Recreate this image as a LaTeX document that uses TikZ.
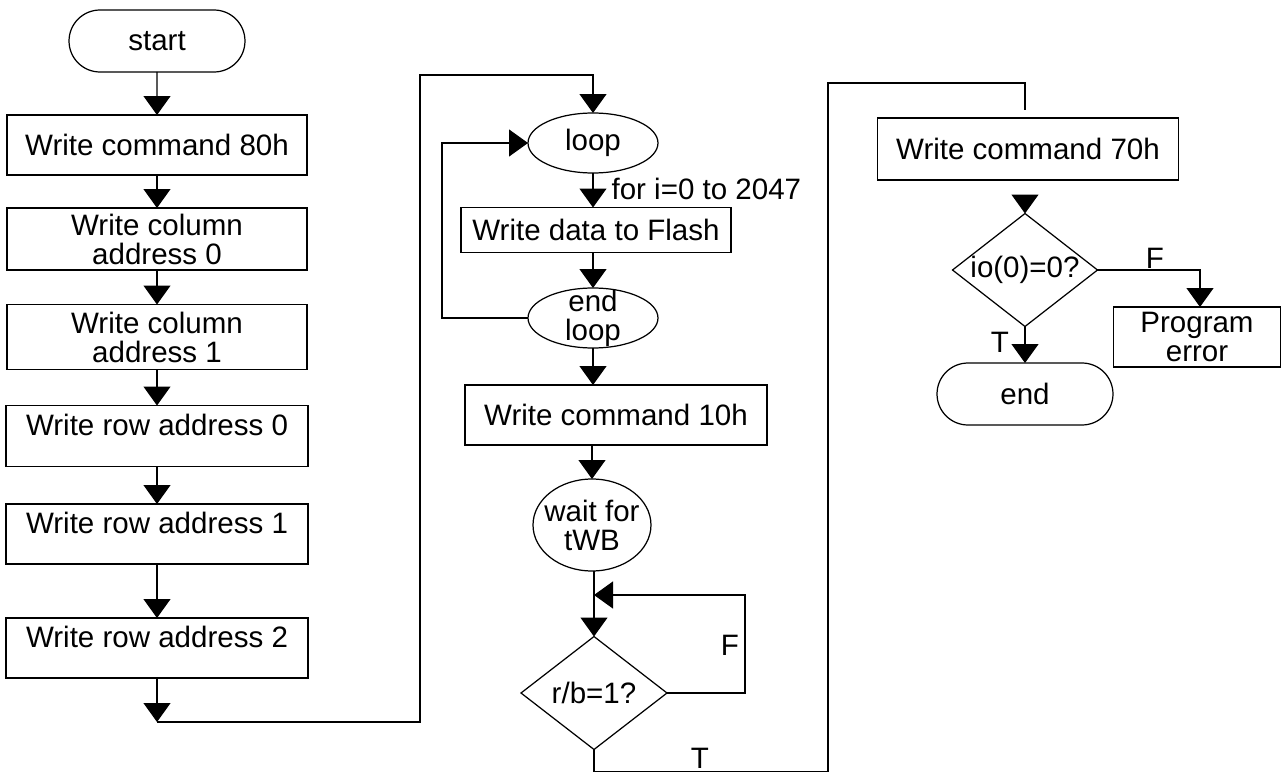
\documentclass[tikz,border=0pt]{standalone}
\usepackage{fontspec}
\setmainfont{Liberation Sans}
\usepackage{tikz}
\usetikzlibrary{shapes.geometric}
\usetikzlibrary{shapes.misc}
\usetikzlibrary{arrows.meta}
\newcommand{\chartfont}{\fontsize{16.8pt}{16.5pt}\selectfont}
\newcommand{\boxwidth}{6cm}
\newcommand{\boxheight}{1.2cm}
\tikzstyle{chart}=[draw, inner sep=0, outer sep=0, align=center, font=\chartfont,
                   minimum width=\boxwidth, minimum height=\boxheight]
\tikzstyle{pchart}=[chart, rectangle]
\tikzstyle{rchart}=[pchart, minimum width=6.04cm, text depth=0.45cm]
\tikzstyle{tchart}=[chart, rounded rectangle, minimum width=3.52cm, minimum height=1.24cm]
\tikzstyle{echart}=[chart, ellipse, inner sep=-4pt]
\tikzstyle{dchart}=[chart, diamond, inner sep=-4pt, minimum width=2.92cm, minimum height=2.26cm]
\tikzstyle{flowlabel}=[inner sep=0, font=\chartfont]
\tikzstyle{flow}=[-{Triangle[length=0.38cm, width=0.54cm]}]
\tikzstyle{flowchart}=[x=0.02cm, y=-0.02cm, line width=0.7pt,
                       % Pixel grid of the scanned chart, y grows downwards.
                       every node/.append style={line width=0.7pt}]

\begin{document}
\begin{tikzpicture}[flowchart]
    \useasboundingbox (0,0) rectangle (1282,777);
    % first column
    \node[tchart] (start) at (157,41) {start};
    \node[pchart] (cmd80) at (157,145) {Write command 80h};
    \node[pchart, minimum height=1.24cm] (col0) at (157,239) {Write column\\address 0};
    \node[pchart, minimum height=1.3cm] (col1) at (157,337) {Write column\\address 1};
    \node[rchart, minimum height=1.22cm] (row0) at (157,436) {Write row address 0};
    \node[rchart] (row1) at (157,534) {Write row address 1};
    \node[rchart] (row2) at (157,648) {Write row address 2};
    \coordinate (down) at (157,722);
    \coordinate (up) at (420,75);
    \draw[flow] (start) -- (cmd80);
    \draw[flow] (cmd80) -- (col0);
    \draw[flow] (col0) -- (col1);
    \draw[flow] (col1) -- (row0);
    \draw[flow] (row0) -- (row1);
    \draw[flow] (row1) -- (row2);
    \draw[flow] (row2) -- (down);
    % second column
    \node[echart, minimum width=2.6cm] (loop) at (593,143) {loop};
    \node[flowlabel, anchor=west] (range) at (611,189) {for i=0 to 2047};
    \node[pchart, minimum width=5.4cm, minimum height=0.9cm] (flash) at (596,230) {Write data to Flash};
    \node[echart, minimum width=2.6cm, inner sep=-5pt] (endloop) at (593,318) {end\\loop};
    \node[pchart, minimum width=6.04cm] (cmd10) at (616,415) {Write command 10h};
    \node[echart, minimum width=2.36cm, minimum height=1.84cm] (wait) at (592,525) {wait for\\tWB};
    \node[dchart] (rb) at (594,693) {r/b=1?};
    \coordinate (back) at (594,595);
    \node[flowlabel] (rbF) at (730,645) {F};
    \node[flowlabel] (rbT) at (700,758) {T};
    \draw[flow] (down) -| (up) -| (loop.north);
    \draw[flow] (loop.south) -- (loop.south |- flash.north);
    \draw[flow] (flash.south -| loop.south) -- (endloop.north);
    \draw[flow] (endloop.west) -- ++(-86,0) |- (loop.west);
    \draw[flow] (endloop.south) -- (endloop.south |- cmd10.north);
    \draw[flow] (wait.north |- cmd10.south) -- (wait.north);
    \draw[flow] (wait.south -| rb.north) -- (rb.north);
    \draw[flow] (rb.east) -- ++(78,0) |- (back);
    % third column
    \node[pchart, minimum width=6.02cm, minimum height=1.24cm] (cmd70) at (1028,149) {Write command 70h};
    \node[dchart, minimum width=2.9cm] (io) at (1025,270) {io(0)=0?};
    \node[pchart, minimum width=3.34cm] (error) at (1197,337) {Program\\error};
    \node[tchart] (end) at (1025,394) {end};
    \node[flowlabel] (ioF) at (1155,258) {F};
    \node[flowlabel] (ioT) at (1000,342) {T};
    \coordinate (over) at (828,83);
    \coordinate (top) at (1025,110);
    \draw (rb.south) -- ++(0,22) -| (over) -| (top);
    \draw[flow, shorten <=0.32cm] (io.north |- cmd70.south) -- (io.north);
    \draw[flow] (io.east) -| (error.north -| 1200,0);
    \draw[flow] (io.south) -- (end.north);
\end{tikzpicture}
\end{document}
